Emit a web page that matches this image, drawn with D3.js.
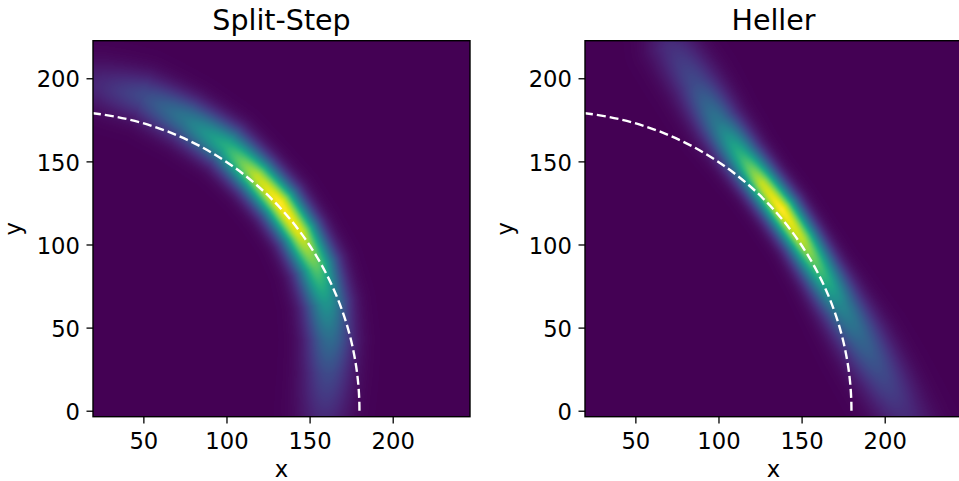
<!DOCTYPE html>
<html>
<head>
<meta charset="utf-8">
<script src="https://cdn.jsdelivr.net/npm/d3@7"></script>
<style>
  body { margin: 0; background: #fff; }
  svg { display: block; font-family: "DejaVu Sans", sans-serif; }
  .tick text { font-size: 22.7px; fill: #000; }
  .tick line { stroke: #000; stroke-width: 1.3; }
</style>
</head>
<body>
<svg id="chart" width="959" height="481"></svg>
<script>
const panelTitles = ['Split-Step', 'Heller'];
const xTicks = [50, 100, 150, 200];
const yTicks = [0, 50, 100, 150, 200];
const xExtent = [19.7, 246.5];
const yExtent = [-3.6, 222.6];
const classicalRadius = 180;

// centre line of each packet:
// peak density (0..1) and spread across the band (sigma, data units)
const splitStepRidge = [
  { x: 0, y: 199, amp: 0.05, sigma: 10.5 },
  { x: 26, y: 195, amp: 0.12, sigma: 10 },
  { x: 50, y: 189, amp: 0.22, sigma: 9.5 },
  { x: 76, y: 175, amp: 0.4, sigma: 9 },
  { x: 100, y: 159, amp: 0.62, sigma: 8.5 },
  { x: 118, y: 141, amp: 0.9, sigma: 8 },
  { x: 132, y: 125, amp: 1.0, sigma: 8 },
  { x: 144, y: 107, amp: 0.95, sigma: 8 },
  { x: 154, y: 87, amp: 0.75, sigma: 8.5 },
  { x: 160, y: 65, amp: 0.52, sigma: 9 },
  { x: 162, y: 43, amp: 0.35, sigma: 9.5 },
  { x: 161, y: 22, amp: 0.22, sigma: 10 },
  { x: 159, y: 0, amp: 0.13, sigma: 10.5 },
  { x: 158, y: -18, amp: 0.07, sigma: 10.5 }
];
const hellerRidge = [
  { x: 69, y: 231, amp: 0.08, sigma: 10 },
  { x: 72, y: 219, amp: 0.13, sigma: 10 },
  { x: 86, y: 197, amp: 0.22, sigma: 9.5 },
  { x: 100, y: 173, amp: 0.4, sigma: 8.5 },
  { x: 114, y: 153, amp: 0.65, sigma: 7.5 },
  { x: 126, y: 137, amp: 0.9, sigma: 7 },
  { x: 138, y: 121, amp: 1.0, sigma: 7 },
  { x: 150, y: 103, amp: 0.9, sigma: 7 },
  { x: 162, y: 83, amp: 0.68, sigma: 7.5 },
  { x: 174, y: 63, amp: 0.45, sigma: 8.5 },
  { x: 186, y: 43, amp: 0.32, sigma: 9.5 },
  { x: 198, y: 22, amp: 0.22, sigma: 10 },
  { x: 210, y: 0, amp: 0.13, sigma: 10.5 },
  { x: 222, y: -22, amp: 0.07, sigma: 11 }
];
const ridges = [splitStepRidge, hellerRidge];

const plotW = 377, plotH = 376, plotTop = 40.7;
const plotLefts = [93, 585];

const svg = d3.select('#chart');

const xScale = d3.scaleLinear().domain(xExtent).range([0, plotW]);
const yScale = d3.scaleLinear().domain(yExtent).range([plotH, 0]);

// viridis lookup table
const lut = d3.range(256).map(i => d3.rgb(d3.interpolateViridis(i / 255)));

// density at (px, py): gaussian across the nearest point of the ridge line
function density(ridge, px, py) {
  let best = Infinity, amp = 0, sig = 1;
  for (let i = 0; i < ridge.length - 1; i++) {
    const a = ridge[i], b = ridge[i + 1];
    const dx = b.x - a.x, dy = b.y - a.y;
    let t = ((px - a.x) * dx + (py - a.y) * dy) / (dx * dx + dy * dy);
    t = Math.max(0, Math.min(1, t));
    const qx = a.x + t * dx, qy = a.y + t * dy;
    const d2 = (px - qx) ** 2 + (py - qy) ** 2;
    if (d2 < best) {
      best = d2;
      amp = a.amp + t * (b.amp - a.amp);
      sig = a.sigma + t * (b.sigma - a.sigma);
    }
  }
  return amp * Math.exp(-best / (2 * sig * sig));
}

function renderField(ridge) {
  const canvas = document.createElement('canvas');
  canvas.width = plotW;
  canvas.height = plotH;
  const ctx = canvas.getContext('2d');
  const img = ctx.createImageData(plotW, plotH);
  for (let j = 0; j < plotH; j++) {
    const py = yScale.invert(j + 0.5);
    for (let i = 0; i < plotW; i++) {
      const px = xScale.invert(i + 0.5);
      const v = Math.max(0, Math.min(1, density(ridge, px, py)));
      const c = lut[Math.round(v * 255)];
      const k = (j * plotW + i) * 4;
      img.data[k] = c.r; img.data[k + 1] = c.g; img.data[k + 2] = c.b; img.data[k + 3] = 255;
    }
  }
  ctx.putImageData(img, 0, 0);
  return canvas.toDataURL();
}

panelTitles.forEach((title, p) => {
  const g = svg.append('g').attr('transform', `translate(${plotLefts[p]},${plotTop})`);

  g.append('clipPath').attr('id', 'clip' + p)
    .append('rect').attr('width', plotW).attr('height', plotH);

  g.append('image')
    .attr('width', plotW).attr('height', plotH)
    .attr('preserveAspectRatio', 'none')
    .attr('href', renderField(ridges[p]));

  // classical orbit, quarter circle of radius 180
  const path = d3.path();
  path.arc(xScale(0), yScale(0), xScale(classicalRadius) - xScale(0), 0, -Math.PI / 2, true);
  g.append('path')
    .attr('d', path.toString())
    .attr('clip-path', `url(#clip${p})`)
    .attr('fill', 'none')
    .attr('stroke', '#fff')
    .attr('stroke-width', 2.4)
    .attr('stroke-dasharray', '9,4');

  g.append('rect')
    .attr('width', plotW).attr('height', plotH)
    .attr('fill', 'none').attr('stroke', '#000').attr('stroke-width', 1.4);

  const xAxis = g.append('g')
    .attr('transform', `translate(0,${plotH})`)
    .call(d3.axisBottom(xScale).tickValues(xTicks).tickSize(6.7).tickPadding(9.9));
  xAxis.select('.domain').remove();

  const yAxis = g.append('g')
    .call(d3.axisLeft(yScale).tickValues(yTicks).tickSize(6.5).tickPadding(6.5));
  yAxis.select('.domain').remove();
  yAxis.selectAll('.tick text').attr('dy', '0.38em');

  g.selectAll('.tick text').attr('font-family', '"DejaVu Sans", sans-serif');

  g.append('text')
    .attr('x', plotW / 2).attr('y', 30 - plotTop)
    .attr('text-anchor', 'middle')
    .attr('font-size', 28.5)
    .text(title);

  g.append('text')
    .attr('x', plotW / 2).attr('y', 477 - plotTop)
    .attr('text-anchor', 'middle')
    .attr('font-size', 22.7)
    .text('x');

  g.append('text')
    .attr('transform', `translate(-72.3,${plotH / 2}) rotate(-90)`)
    .attr('text-anchor', 'middle')
    .attr('font-size', 22.7)
    .text('y');
});
</script>
</body>
</html>
